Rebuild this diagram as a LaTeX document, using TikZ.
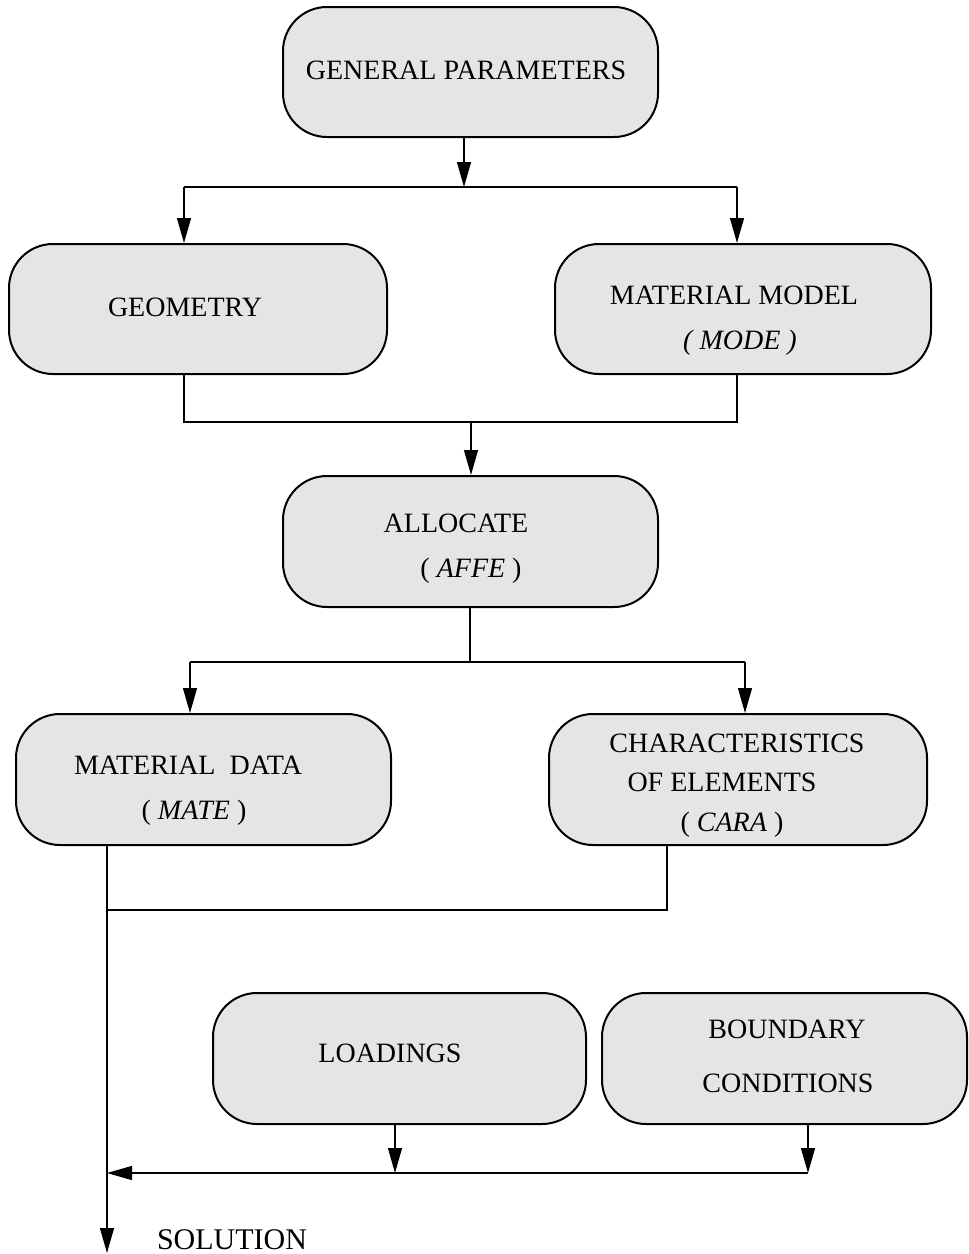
\documentclass[tikz,border=0pt]{standalone}
\usepackage{fontspec}
\setmainfont{Liberation Serif}
\usetikzlibrary{arrows.meta}
\begin{document}
\begin{tikzpicture}[x=0.5pt,y=-0.5pt,
  box/.style={draw=black, line width=1pt, fill=gray!20, rounded corners=22pt,
    rectangle, inner sep=0pt},
  txt/.style={anchor=base, inner sep=0pt, font=\fontsize{14pt}{16pt}\selectfont},
  wire/.style={line width=0.65pt},
  arr/.style={wire, -{Triangle[length=12.5pt, width=7pt]}}]
\useasboundingbox (0,0) rectangle (969,1254);

% process boxes
\node[box, minimum width=375pt*0.5, minimum height=130pt*0.5] (gp)  at (470.5,72)   {};
\node[box, minimum width=378pt*0.5, minimum height=130pt*0.5] (geo) at (198,309)    {};
\node[box, minimum width=376pt*0.5, minimum height=130pt*0.5] (mm)  at (743,309)    {};
\node[box, minimum width=375pt*0.5, minimum height=131pt*0.5] (aff) at (470.5,541.5){};
\node[box, minimum width=375pt*0.5, minimum height=131pt*0.5] (md)  at (203.5,779.5){};
\node[box, minimum width=378pt*0.5, minimum height=131pt*0.5] (ch)  at (738,779.5)  {};
\node[box, minimum width=373pt*0.5, minimum height=131pt*0.5] (ld)  at (399.5,1058.5){};
\node[box, minimum width=365pt*0.5, minimum height=131pt*0.5] (bc)  at (784.5,1058.5){};

% box labels
\node[txt] (gpT)  at (466,79)  {GENERAL PARAMETERS};
\node[txt] (geoT) at (185,316) {GEOMETRY};
\node[txt] (mmT1) at (734,304) {MATERIAL MODEL};
\node[txt] (mmT2) at (740,349) {\itshape ( MODE )};
\node[txt] (affT1) at (456,532) {ALLOCATE};
\node[txt] (affT2) at (471,577) {( \textit{AFFE} )};
\node[txt] (mdT1) at (188,774) {MATERIAL\ \ DATA};
\node[txt] (mdT2) at (194,819) {( \textit{MATE} )};
\node[txt] (chT1) at (737,752) {CHARACTERISTICS};
\node[txt] (chT2) at (722,791) {OF ELEMENTS};
\node[txt] (chT3) at (732,831) {( \textit{CARA} )};
\node[txt] (ldT)  at (390,1062) {LOADINGS};
\node[txt] (bcT1) at (787,1038) {BOUNDARY};
\node[txt] (bcT2) at (788,1092) {CONDITIONS};
\node[txt, font=\fontsize{15pt}{17pt}\selectfont] (sol) at (232,1249) {SOLUTION};

% junction points of the connectors
\coordinate (j1)  at (464,187);
\coordinate (j1l) at (184,187);
\coordinate (j1r) at (737,187);
\coordinate (j2)  at (471,422);
\coordinate (j2l) at (184,422);
\coordinate (j2r) at (737,422);
\coordinate (j3)  at (470,662);
\coordinate (j3l) at (190,662);
\coordinate (j3r) at (745,662);
\coordinate (j4)  at (667,910);
\coordinate (j5l) at (107,1173);
\coordinate (j5m) at (395,1173);
\coordinate (j5r) at (808,1173);
\coordinate (out) at (107,1253);

% general parameters -> geometry / material model
\draw[arr] (j1 |- gp.south) -- (j1);
\draw[wire] (j1l) -- (j1r);
\draw[arr] (j1l) -- (j1l |- geo.north);
\draw[arr] (j1r) -- (j1r |- mm.north);

% geometry + material model -> allocate
\draw[wire] (j2l |- geo.south) -- (j2l) -- (j2r) -- (j2r |- mm.south);
\draw[arr] (j2) -- (j2 |- aff.north);

% allocate -> material data / characteristics
\draw[wire] (j3 |- aff.south) -- (j3);
\draw[wire] (j3l) -- (j3r);
\draw[arr] (j3l) -- (j3l |- md.north);
\draw[arr] (j3r) -- (j3r |- ch.north);

% material data + characteristics -> solution
\draw[arr] (out |- md.south) -- (out);
\draw[wire] (j4 |- ch.south) -- (j4) -- (j4 -| out);

% loadings + boundary conditions -> solution
\draw[arr] (j5m |- ld.south) -- (j5m);
\draw[arr] (j5r |- bc.south) -- (j5r);
\draw[arr] (j5r) -- (j5l);
\end{tikzpicture}
\end{document}
